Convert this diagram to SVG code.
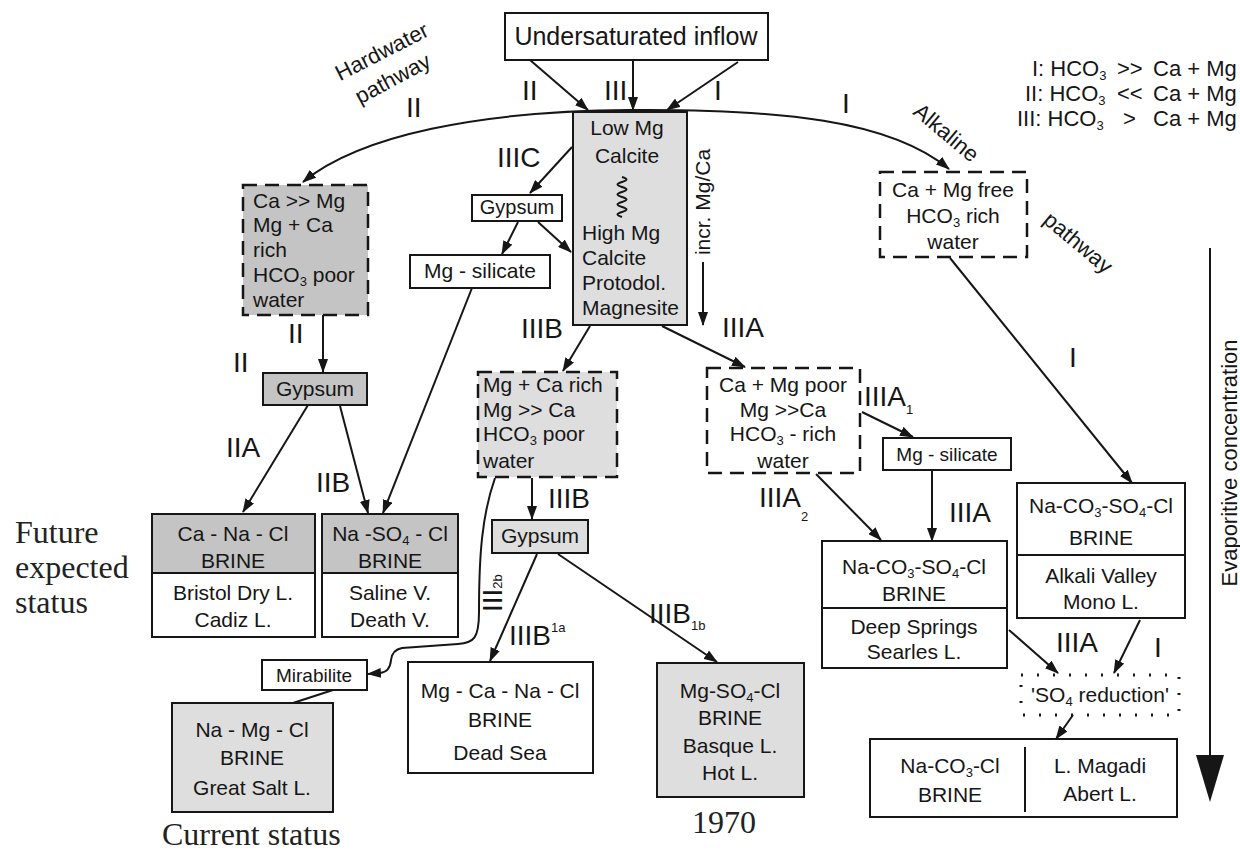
<svg xmlns="http://www.w3.org/2000/svg" width="1240" height="854" viewBox="0 0 1240 854">
<style>
.t{font-family:"Liberation Sans",Arial,sans-serif;font-size:21px;fill:#161616}
.c{text-anchor:middle}
.r{font-size:28px}
.lg{font-size:22px}
.sm{font-size:19px}
.s{font-size:13px}
.serif{font-family:"Liberation Serif","Times New Roman",serif;font-size:32px;fill:#222}
.bx{fill:#fff;stroke:#161616;stroke-width:2}
.g1{fill:#dedede}
.g2{fill:#c4c4c4}
.dash{stroke-dasharray:14 8;stroke-width:2.5}
.dot{fill:none;stroke:#161616;stroke-width:3;stroke-dasharray:2 14}
.ln{fill:none;stroke:#161616;stroke-width:2}
</style>
<defs>
<marker id="a" viewBox="0 0 14 10" refX="13" refY="5" markerWidth="14" markerHeight="10" markerUnits="userSpaceOnUse" orient="auto"><path d="M0,0 L14,5 L0,10 z" fill="#161616"/></marker>
</defs>
<rect width="1240" height="854" fill="#fff"/>

<g id="connectors">
<path class="ln" marker-end="url(#a)" d="M530,60 L588,110"/>
<path class="ln" marker-end="url(#a)" d="M633,60 L633,110"/>
<path class="ln" marker-end="url(#a)" d="M738,62 L667,110"/>
<path class="ln" marker-end="url(#a)" d="M630,110 C480,111 360,135 303,182"/>
<path class="ln" marker-end="url(#a)" d="M630,110 C780,109 890,120 949,169"/>
<path class="ln" marker-end="url(#a)" d="M572,147 L530,193"/>
<path class="ln" marker-end="url(#a)" d="M518,222 L502,254"/>
<path class="ln" marker-end="url(#a)" d="M538,222 L571,252"/>
<path class="ln" marker-end="url(#a)" d="M472,288 L383,513"/>
<path class="ln" marker-end="url(#a)" d="M323,315 L323,372"/>
<path class="ln" marker-end="url(#a)" d="M308,405 L243,512"/>
<path class="ln" marker-end="url(#a)" d="M340,406 L368,513"/>
<path class="ln" marker-end="url(#a)" d="M590,326 L563,371"/>
<path class="ln" marker-end="url(#a)" d="M662,326 L745,367"/>
<path class="ln" marker-end="url(#a)" d="M703,262 L703,325"/>
<path class="ln" marker-end="url(#a)" d="M862,412 L913,437"/>
<path class="ln" marker-end="url(#a)" d="M932,470 L932,541"/>
<path class="ln" marker-end="url(#a)" d="M816,474 L881,540"/>
<path class="ln" marker-end="url(#a)" d="M950,258 L1132,483"/>
<path class="ln" marker-end="url(#a)" d="M532,478 L532,519"/>
<path class="ln" marker-end="url(#a)" d="M495,478 C482,515 479,555 479,612 C479,638 474,643 458,644 L402,648 Q392,650 391,660 Q390,672 380,673 L368,674"/>
<path class="ln" marker-end="url(#a)" d="M537,554 L490,661"/>
<path class="ln" marker-end="url(#a)" d="M558,554 L717,662"/>
<path class="ln" d="M333,690 L293,703"/>
<path class="ln" marker-end="url(#a)" d="M1009,630 L1058,673"/>
<path class="ln" marker-end="url(#a)" d="M1140,620 L1114,673"/>
<path class="ln" marker-end="url(#a)" d="M1073,715 L1056,739"/>
<path class="ln" stroke-width="3" d="M1210,248 L1210,760"/>
<polygon points="1196,755 1224,755 1210,802" fill="#161616"/>
</g>

<g id="labels">
<text class="t r" x="522" y="100">II</text>
<text class="t r" x="604" y="100">III</text>
<text class="t r" x="714" y="100">I</text>
<text class="t r" x="406" y="117">II</text>
<text class="t r" x="842" y="113">I</text>
<text class="t r" x="497" y="167">IIIC</text>
<text class="t r" x="288" y="343">II</text>
<text class="t r" x="233" y="372">II</text>
<text class="t r" x="226" y="457">IIA</text>
<text class="t r" x="316" y="492">IIB</text>
<text class="t r" x="521" y="338">IIIB</text>
<text class="t r" x="722" y="337">IIIA</text>
<text class="t r" x="864" y="406">IIIA<tspan class="s" dy="8">1</tspan></text>
<text class="t r" x="548" y="508">IIIB</text>
<text class="t r" x="759" y="507">IIIA<tspan class="s" dy="14">2</tspan></text>
<text class="t r" x="949" y="522">IIIA</text>
<text class="t r" x="1069" y="367">I</text>
<text class="t r" x="509" y="645">IIIB<tspan class="s" dy="-13">1a</tspan></text>
<text class="t r" x="649" y="623">IIIB<tspan class="s" dy="7">1b</tspan></text>
<text class="t r" x="1056" y="652">IIIA</text>
<text class="t r" x="1154" y="657">I</text>
<text class="t r" transform="translate(502,612) rotate(-90)">III<tspan class="s">2b</tspan></text>
<text class="t lg c" transform="translate(382,52) rotate(-27)" y="7">Hardwater</text>
<text class="t lg c" transform="translate(393,79) rotate(-28)" y="7">pathway</text>
<text class="t lg c" transform="translate(946,133) rotate(40)" y="7">Alkaline</text>
<text class="t lg c" transform="translate(1078,243) rotate(40)" y="7">pathway</text>
<text class="t lg c" transform="translate(1237,463) rotate(-90)">Evaporitive concentration</text>
<text class="t lg" y="76"><tspan x="1032">I: HCO</tspan><tspan class="s" dy="4">3</tspan><tspan x="1117" dy="-4">&gt;&gt;</tspan><tspan x="1153">Ca + Mg</tspan></text>
<text class="t lg" y="101"><tspan x="1025">II: HCO</tspan><tspan class="s" dy="4">3</tspan><tspan x="1117" dy="-4">&lt;&lt;</tspan><tspan x="1153">Ca + Mg</tspan></text>
<text class="t lg" y="126"><tspan x="1017">III: HCO</tspan><tspan class="s" dy="4">3</tspan><tspan x="1123" dy="-4">&gt;</tspan><tspan x="1153">Ca + Mg</tspan></text>
<text class="serif" x="15" y="543">Future</text>
<text class="serif" x="15" y="578">expected</text>
<text class="serif" x="15" y="613">status</text>
<text class="serif" x="162" y="845">Current status</text>
<text class="serif" x="692" y="833">1970</text>
</g>

<g id="n-inflow">
<rect class="bx" x="505" y="13" width="263" height="47"/>
<text class="t c" x="636" y="45" style="font-size:25px">Undersaturated inflow</text>
</g>

<g id="n-lowmg">
<rect class="bx g1" x="573" y="112" width="114" height="213"/>
<text class="t c" x="627" y="135">Low Mg</text>
<text class="t c" x="627" y="163">Calcite</text>
<path class="ln" stroke-width="1.8" d="M622,177 c6,2 6,3 0,5 c-6,2 -6,3 0,5 c6,2 6,3 0,5 c-6,2 -6,3 0,5 c6,2 6,3 0,5 c-6,2 -6,3 0,5 c6,2 6,3 0,5 c-6,2 -6,3 0,5"/>
<text class="t" x="582" y="240">High Mg</text>
<text class="t" x="582" y="265">Calcite</text>
<text class="t" x="582" y="290">Protodol.</text>
<text class="t" x="582" y="315">Magnesite</text>
<text class="t c" transform="translate(710,202) rotate(-90)">incr. Mg/Ca</text>
</g>

<g id="n-camg-rich">
<rect class="bx g2 dash" x="243" y="185" width="125" height="130"/>
<text class="t" x="253" y="208">Ca &gt;&gt; Mg</text>
<text class="t" x="253" y="232">Mg + Ca</text>
<text class="t" x="253" y="257">rich</text>
<text class="t" x="253" y="282">HCO<tspan class="s" dy="4">3</tspan><tspan dy="-4"> poor</tspan></text>
<text class="t" x="253" y="307">water</text>
</g>

<g id="n-gypsum-c">
<rect class="bx" x="472" y="195" width="90" height="26"/>
<text class="t c" x="517" y="214" style="font-size:20px">Gypsum</text>
</g>

<g id="n-mgsil-l">
<rect class="bx" x="410" y="255" width="140" height="33"/>
<text class="t c" x="480" y="278">Mg - silicate</text>
</g>

<g id="n-free">
<rect class="bx dash" x="880" y="172" width="147" height="85"/>
<text class="t c" x="953" y="197">Ca + Mg free</text>
<text class="t c" x="953" y="223">HCO<tspan class="s" dy="4">3</tspan><tspan dy="-4"> rich</tspan></text>
<text class="t c" x="953" y="249">water</text>
</g>

<g id="n-gypsum-l">
<rect class="bx g2" x="263" y="373" width="104" height="32"/>
<text class="t c" x="315" y="396">Gypsum</text>
</g>

<g id="n-mgca-rich">
<rect class="bx g1 dash" x="478" y="372" width="139" height="105"/>
<text class="t" x="483" y="392">Mg + Ca rich</text>
<text class="t" x="483" y="417">Mg &gt;&gt; Ca</text>
<text class="t" x="483" y="441">HCO<tspan class="s" dy="4">3</tspan><tspan dy="-4"> poor</tspan></text>
<text class="t" x="483" y="468">water</text>
</g>

<g id="n-camg-poor">
<rect class="bx dash" x="707" y="368" width="153" height="105"/>
<text class="t c" x="783" y="392">Ca + Mg poor</text>
<text class="t c" x="783" y="417">Mg &gt;&gt;Ca</text>
<text class="t c" x="783" y="441">HCO<tspan class="s" dy="4">3</tspan><tspan dy="-4"> - rich</tspan></text>
<text class="t c" x="783" y="468">water</text>
</g>

<g id="n-mgsil-r">
<rect class="bx" x="883" y="438" width="128" height="32"/>
<text class="t c sm" x="947" y="461">Mg - silicate</text>
</g>

<g id="n-canacl">
<rect class="g2" x="152" y="514" width="163" height="59"/>
<rect class="bx" x="152" y="514" width="163" height="123" style="fill:none"/>
<path class="ln" d="M152,573 L315,573"/>
<text class="t c" x="233" y="541">Ca - Na - Cl</text>
<text class="t c" x="233" y="568">BRINE</text>
<text class="t c" x="233" y="600">Bristol Dry L.</text>
<text class="t c" x="233" y="627">Cadiz L.</text>
</g>

<g id="n-naso4cl">
<rect class="g2" x="322" y="514" width="136" height="59"/>
<rect class="bx" x="322" y="514" width="136" height="123" style="fill:none"/>
<path class="ln" d="M322,573 L458,573"/>
<text class="t c" x="390" y="541">Na -SO<tspan class="s" dy="4">4</tspan><tspan dy="-4"> - Cl</tspan></text>
<text class="t c" x="390" y="568">BRINE</text>
<text class="t c" x="390" y="600">Saline V.</text>
<text class="t c" x="390" y="627">Death V.</text>
</g>

<g id="n-gypsum-b">
<rect class="bx g1" x="492" y="520" width="96" height="33"/>
<text class="t c" x="540" y="543">Gypsum</text>
</g>

<g id="n-naco3-mid">
<rect class="bx" x="822" y="541" width="185" height="127"/>
<path class="ln" d="M822,608 L1007,608"/>
<text class="t c" x="914" y="574">Na-CO<tspan class="s" dy="4">3</tspan><tspan dy="-4">-SO</tspan><tspan class="s" dy="4">4</tspan><tspan dy="-4">-Cl</tspan></text>
<text class="t c" x="914" y="601">BRINE</text>
<text class="t c" x="914" y="634">Deep Springs</text>
<text class="t c" x="914" y="659">Searles L.</text>
</g>

<g id="n-naco3-right">
<rect class="bx" x="1017" y="483" width="168" height="135"/>
<path class="ln" d="M1017,555 L1185,555"/>
<text class="t c" x="1101" y="513">Na-CO<tspan class="s" dy="4">3</tspan><tspan dy="-4">-SO</tspan><tspan class="s" dy="4">4</tspan><tspan dy="-4">-Cl</tspan></text>
<text class="t c" x="1101" y="545">BRINE</text>
<text class="t c" x="1101" y="583">Alkali Valley</text>
<text class="t c" x="1101" y="609">Mono L.</text>
</g>

<g id="n-mirabilite">
<rect class="bx" x="262" y="660" width="105" height="30"/>
<text class="t c sm" x="314" y="682">Mirabilite</text>
</g>

<g id="n-namgcl">
<rect class="bx g1" x="172" y="703" width="161" height="109"/>
<text class="t c" x="252" y="737">Na - Mg - Cl</text>
<text class="t c" x="252" y="765">BRINE</text>
<text class="t c" x="252" y="795">Great Salt L.</text>
</g>

<g id="n-deadsea">
<rect class="bx" x="408" y="662" width="185" height="111"/>
<text class="t c" x="500" y="698">Mg - Ca - Na - Cl</text>
<text class="t c" x="500" y="727">BRINE</text>
<text class="t c" x="500" y="760">Dead Sea</text>
</g>

<g id="n-mgso4cl">
<rect class="bx g1" x="657" y="663" width="147" height="134"/>
<text class="t c" x="730" y="698">Mg-SO<tspan class="s" dy="4">4</tspan><tspan dy="-4">-Cl</tspan></text>
<text class="t c" x="730" y="725">BRINE</text>
<text class="t c" x="730" y="753">Basque L.</text>
<text class="t c" x="730" y="780">Hot L.</text>
</g>

<g id="n-so4red">
<rect class="dot" x="1021" y="675" width="158" height="40"/>
<text class="t c" x="1100" y="702">'SO<tspan class="s" dy="4">4</tspan><tspan dy="-4"> reduction'</tspan></text>
</g>

<g id="n-magadi">
<rect class="bx" x="870" y="739" width="307" height="78"/>
<path class="ln" d="M1025,747 L1025,812"/>
<text class="t c" x="950" y="773">Na-CO<tspan class="s" dy="4">3</tspan><tspan dy="-4">-Cl</tspan></text>
<text class="t c" x="950" y="802">BRINE</text>
<text class="t c" x="1100" y="773">L. Magadi</text>
<text class="t c" x="1100" y="801">Abert L.</text>
</g>
</svg>
